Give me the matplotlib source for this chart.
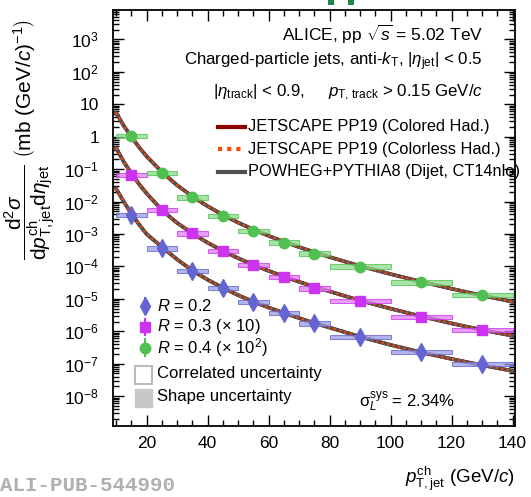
import matplotlib
matplotlib.use('Agg')
from matplotlib import pyplot as plt
from matplotlib.patches import Rectangle
from matplotlib.ticker import LogLocator, FuncFormatter, MultipleLocator, NullFormatter
import numpy as np

plt.rcParams['font.family'] = ['Liberation Sans', 'DejaVu Sans']
plt.rcParams['mathtext.fontset'] = 'custom'
plt.rcParams['mathtext.rm'] = 'Liberation Sans'
plt.rcParams['mathtext.it'] = 'Liberation Sans:italic'
plt.rcParams['mathtext.bf'] = 'Liberation Sans:bold'

# measured spectra (R=0.3 scaled x10, R=0.4 scaled x100)
bin_lo = [10, 20, 30, 40, 50, 60, 70, 80, 100, 120]
bin_hi = [20, 30, 40, 50, 60, 70, 80, 100, 120, 140]
pt_center = [15, 25, 35, 45, 55, 65, 75, 90, 110, 130]

xsec_r02 = [3.8e-3, 3.6e-4, 7.1e-5, 2.2e-5, 8.1e-6, 3.7e-6, 1.74e-6, 6.7e-7, 2.3e-7, 9.6e-8]
xsec_r03 = [0.066, 5.5e-3, 1.04e-3, 3.0e-4, 1.1e-4, 4.7e-5, 2.1e-5, 8.7e-6, 2.8e-6, 1.08e-6]
xsec_r04 = [1.05, 0.077, 0.0135, 3.6e-3, 1.25e-3, 5.4e-4, 2.5e-4, 9.8e-5, 3.2e-5, 1.3e-5]

syst_r02 = [0.17, 0.17, 0.17, 0.17, 0.17, 0.17, 0.17, 0.17, 0.17, 0.17]
syst_r03 = [0.17, 0.17, 0.17, 0.17, 0.17, 0.17, 0.17, 0.17, 0.17, 0.17]
syst_r04 = [0.17, 0.17, 0.17, 0.17, 0.17, 0.17, 0.17, 0.17, 0.17, 0.17]

# model curves
theory_pt = [10, 12.5, 15, 17.5, 20, 25, 30, 35, 40, 45, 50, 55, 60, 65, 70, 75,
             80, 90, 100, 110, 120, 130, 140]
model_r02 = [0.025, 0.01, 4.3e-3, 2e-3, 1.0e-3, 4e-4, 1.65e-4, 7.5e-5, 3.9e-5, 2.2e-5,
             1.3e-5, 8.2e-6, 5.4e-6, 3.7e-6, 2.55e-6, 1.8e-6, 1.3e-6, 6.8e-7, 3.8e-7,
             2.25e-7, 1.4e-7, 9e-8, 6e-8]
model_r03 = [0.45, 0.17, 0.075, 0.035, 0.018, 5.5e-3, 2.2e-3, 1.05e-3, 5.4e-4, 3.0e-4,
             1.8e-4, 1.12e-4, 7.3e-5, 4.9e-5, 3.35e-5, 2.35e-5, 1.7e-5, 8.9e-6, 5.0e-6,
             2.9e-6, 1.75e-6, 1.1e-6, 7.3e-7]
model_r04 = [5.5, 2.2, 1.0, 0.48, 0.25, 0.082, 0.032, 0.0145, 7.2e-3, 3.9e-3, 2.25e-3,
             1.38e-3, 8.8e-4, 5.8e-4, 3.95e-4, 2.75e-4, 1.95e-4, 1.03e-4, 5.8e-5, 3.4e-5,
             2.05e-5, 1.27e-5, 8.2e-6]

fig = plt.figure(figsize=(5.31, 4.97), dpi=100)
ax = fig.add_axes([0.2128, 0.1429, 0.757, 0.837])

series = [
    (xsec_r02, syst_r02, model_r02, '#6464d2', '#9c9ce6', 'd', 9),
    (xsec_r03, syst_r03, model_r03, '#cc33ee', '#e080f6', 's', 6.5),
    (xsec_r04, syst_r04, model_r04, '#50c050', '#8cdc8c', 'o', 7.5),
]

for vals, syst, model, col, fcol, mk, ms in series:
    ax.plot(theory_pt, model, color='#8b0000', lw=2.6, zorder=2)
    ax.plot(theory_pt, model, color='#505050', lw=2.6, zorder=3)
    ax.plot(theory_pt, model, color='#ff4500', lw=1.6, ls=(0, (1, 1.5)), zorder=4)
    for lo, hi, v, u in zip(bin_lo, bin_hi, vals, syst):
        ax.add_patch(Rectangle((lo, v / (1 + u)), hi - lo, v * (1 + u) - v / (1 + u),
                               facecolor=fcol, edgecolor=col, lw=0.8, alpha=0.75, zorder=5))
    ax.plot(pt_center, vals, ls='none', marker=mk, ms=ms, color=col, mec=col, zorder=6)

ax.set_yscale('log')
ax.set_xlim(9, 140.8)
ax.set_ylim(1.2e-9, 8.1e3)
ax.xaxis.set_major_locator(MultipleLocator(20))
ax.xaxis.set_minor_locator(MultipleLocator(5))
ax.yaxis.set_major_locator(LogLocator(base=10, numticks=30))
ax.yaxis.set_minor_locator(LogLocator(base=10, subs=np.arange(2, 10), numticks=30))
ax.yaxis.set_minor_formatter(NullFormatter())


def ylab(v, pos):
    n = int(round(np.log10(v)))
    if n == 0:
        return '1'
    if n == 1:
        return '10'
    return r'$10^{%d}$' % n


ax.yaxis.set_major_formatter(FuncFormatter(ylab))
ax.tick_params(which='both', direction='in', top=True, right=True, width=1, labelsize=12.5)
ax.tick_params(which='major', length=8)
ax.tick_params(which='minor', length=4)
ax.tick_params(axis='y', pad=10)
ax.tick_params(axis='x', pad=7)
for s in ax.spines.values():
    s.set_linewidth(1.3)

# header text
ax.text(0.92, 0.94, r'ALICE, pp $\sqrt{s}$ = 5.02 TeV', transform=ax.transAxes,
        ha='right', va='center', fontsize=12.5)
ax.text(0.92, 0.875, r'Charged-particle jets, anti-$k_{\mathrm{T}}$, $|\eta_{\mathrm{jet}}|$ < 0.5',
        transform=ax.transAxes, ha='right', va='center', fontsize=12.2)
ax.text(0.92, 0.80, r'$|\eta_{\mathrm{track}}|$ < 0.9,     $p_{\mathrm{T,\,track}}$ > 0.15 GeV/$c$',
        transform=ax.transAxes, ha='right', va='center', fontsize=12.2)

# model legend
model_leg = [
    ('JETSCAPE PP19 (Colored Had.)', dict(color='#8b0000', lw=3)),
    ('JETSCAPE PP19 (Colorless Had.)', dict(color='#ff4500', lw=3, ls=(0, (1, 1.2)))),
    ('POWHEG+PYTHIA8 (Dijet, CT14nlo)', dict(color='#505050', lw=3)),
]
for i, (lab, kw) in enumerate(model_leg):
    yy = 0.719 - i * 0.054
    ax.plot([0.261, 0.328], [yy, yy], transform=ax.transAxes, **kw)
    ax.text(0.336, yy, lab, transform=ax.transAxes, ha='left', va='center', fontsize=11.8)

# data legend
data_leg = [
    (r'$R$ = 0.2', '#6464d2', 'd', 9),
    (r'$R$ = 0.3 ($\times$ 10)', '#cc33ee', 's', 6.5),
    (r'$R$ = 0.4 ($\times$ 10$^{2}$)', '#50c050', 'o', 7.5),
]
for i, (lab, col, mk, ms) in enumerate(data_leg):
    yy = 0.288 - i * 0.05
    ax.plot([0.080, 0.080], [yy - 0.02, yy + 0.02], color=col, lw=1.5, transform=ax.transAxes)
    ax.plot([0.080], [yy], marker=mk, ms=ms, color=col, transform=ax.transAxes)
    ax.text(0.109, yy, lab, transform=ax.transAxes, ha='left', va='center', fontsize=12)

ax.add_patch(Rectangle((0.055, 0.101), 0.043, 0.043, transform=ax.transAxes,
                       facecolor='white', edgecolor='#bbbbbb', lw=1.5))
ax.text(0.109, 0.125, 'Correlated uncertainty', transform=ax.transAxes,
        ha='left', va='center', fontsize=12)
ax.add_patch(Rectangle((0.055, 0.045), 0.043, 0.043, transform=ax.transAxes,
                       facecolor='#c8c8c8', edgecolor='#c8c8c8', lw=1))
ax.text(0.109, 0.07, 'Shape uncertainty', transform=ax.transAxes,
        ha='left', va='center', fontsize=12)
ax.text(0.612, 0.058, r'$\mathrm{\sigma}_{L}^{\mathrm{sys}}$ = 2.34%', transform=ax.transAxes,
        ha='left', va='center', fontsize=12)

# axis titles
fig.text(0.058, 0.72,
         r'$\dfrac{\mathrm{d}^2\sigma}{\mathrm{d}p^{\mathrm{ch}}_{\mathrm{T,jet}}\mathrm{d}\eta_{\mathrm{jet}}}'
         r'\ \left(\mathrm{mb\ (GeV/}c\mathrm{)}^{-1}\right)$',
         rotation=90, ha='center', va='center', fontsize=15)
fig.text(0.97, 0.037, r'$p^{\mathrm{ch}}_{\mathrm{T,jet}}$ (GeV/$c$)', ha='right', va='center',
         fontsize=13.5)
fig.text(0.0, 0.012, 'ALI-PUB-544990', ha='left', va='baseline', fontsize=15,
         family='Liberation Mono', weight='bold', color='#b0b0b0')

# cropped logo piece at the top
fig.patches.append(Rectangle((328 / 531, 1 - 5 / 497), 6 / 531, 5 / 497,
                             transform=fig.transFigure, facecolor='#1a8a4a', edgecolor='none'))
fig.patches.append(Rectangle((348 / 531, 1 - 5 / 497), 6 / 531, 5 / 497,
                             transform=fig.transFigure, facecolor='#1a8a4a', edgecolor='none'))

fig.savefig('out.png', dpi=100)
